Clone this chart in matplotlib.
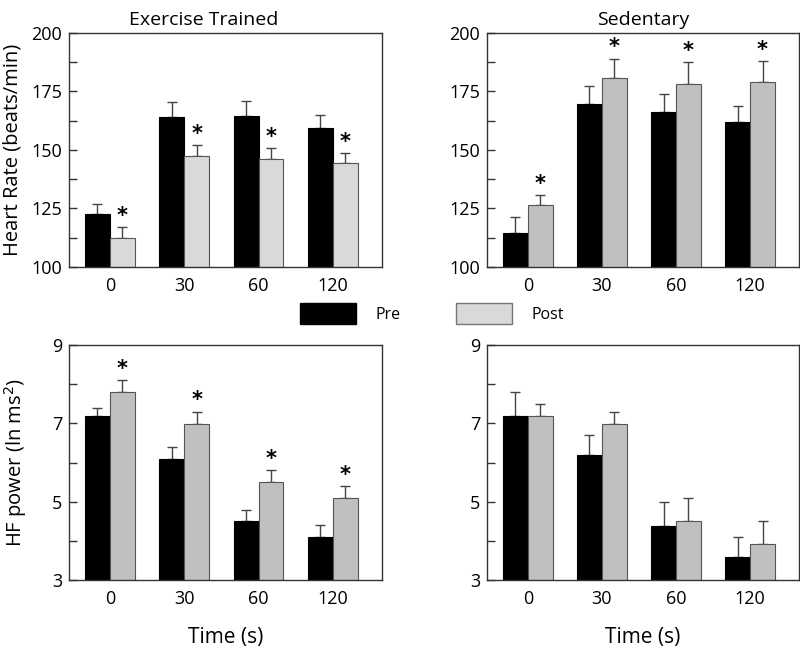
import numpy as np
import matplotlib
matplotlib.use("Agg")
import matplotlib.pyplot as plt

plt.rcParams['font.family'] = ['Open Sans', 'DejaVu Sans']

# Dane
times = ['0', '30', '60', '120']

hr_trained_pre = [122.6, 163.9, 164.6, 159.3]
hr_trained_pre_err = [4.5, 6.7, 6.4, 5.6]
hr_trained_post = [112.3, 147.4, 146.1, 144.3]
hr_trained_post_err = [4.8, 4.7, 4.8, 4.4]

hr_sed_pre = [114.6, 169.6, 166.1, 161.9]
hr_sed_pre_err = [6.7, 7.8, 8.0, 6.7]
hr_sed_post = [126.3, 180.7, 178.1, 179.0]
hr_sed_post_err = [4.3, 8.4, 9.3, 9.1]

hf_trained_pre = [7.19, 6.09, 4.50, 4.09]
hf_trained_pre_err = [0.19, 0.31, 0.30, 0.31]
hf_trained_post = [7.79, 6.99, 5.51, 5.09]
hf_trained_post_err = [0.31, 0.31, 0.29, 0.30]

hf_sed_pre = [7.19, 6.19, 4.39, 3.60]
hf_sed_pre_err = [0.61, 0.50, 0.61, 0.49]
hf_sed_post = [7.20, 6.99, 4.51, 3.91]
hf_sed_post_err = [0.30, 0.31, 0.58, 0.60]

star_hr_trained = [True, True, True, True]
star_hr_sed = [True, True, True, True]
star_hf_trained = [True, True, True, True]
star_hf_sed = [False, False, False, False]

hr_ticks = [100, 125, 150, 175, 200]
hr_minor = [112.5, 137.5, 162.5, 187.5]
hf_ticks = [3, 5, 7, 9]
hf_minor = [4, 6, 8]

fig = plt.figure(figsize=(8, 6.48), dpi=100)

W, H = 800.0, 648.0
def px_axes(l, t, r, b):
    return fig.add_axes([l / W, 1 - b / H, (r - l) / W, (b - t) / H])

ax_tl = px_axes(69, 33, 382, 267)
ax_tr = px_axes(487, 33, 799, 267)
ax_bl = px_axes(69, 345, 382, 580)
ax_br = px_axes(487, 345, 799, 580)

x = np.arange(len(times))
bw = 0.335


def draw(ax, pre, pre_err, post, post_err, stars, post_color, ylim, major, minor, star_off):
    ax.bar(x - bw / 2, pre, bw, color='black', edgecolor='black', linewidth=0.8, zorder=2)
    ax.bar(x + bw / 2, post, bw, color=post_color, edgecolor='#555555', linewidth=0.8, zorder=2)
    ax.errorbar(x - bw / 2, pre, yerr=[np.zeros(len(pre)), pre_err], fmt='none',
                ecolor='#444444', elinewidth=1, capsize=3.5, capthick=1, zorder=1)
    ax.errorbar(x + bw / 2, post, yerr=[np.zeros(len(post)), post_err], fmt='none',
                ecolor='#444444', elinewidth=1, capsize=3.5, capthick=1, zorder=1)
    for i, s in enumerate(stars):
        if s:
            ax.text(x[i] + bw / 2, post[i] + post_err[i] + star_off, '*', ha='center',
                    va='bottom', fontsize=15, fontweight='bold', family='DejaVu Sans')
    ax.set_xlim(-0.55, 3.66)
    ax.set_ylim(*ylim)
    ax.set_yticks(major)
    ax.set_yticks(minor, minor=True)
    ax.tick_params(axis='y', which='both', direction='in', length=6, width=1,
                   color='#333333', labelsize=13, pad=5)
    ax.set_xticks(x)
    ax.set_xticklabels(times)
    ax.tick_params(axis='x', length=0, labelsize=13, pad=7)
    for sp in ax.spines.values():
        sp.set_color('#333333')
        sp.set_linewidth(1)


draw(ax_tl, hr_trained_pre, hr_trained_pre_err, hr_trained_post, hr_trained_post_err,
     star_hr_trained, '#d9d9d9', (100, 200), hr_ticks, hr_minor, 0.5)
draw(ax_tr, hr_sed_pre, hr_sed_pre_err, hr_sed_post, hr_sed_post_err,
     star_hr_sed, '#c0c0c0', (100, 200), hr_ticks, hr_minor, 0.5)
draw(ax_bl, hf_trained_pre, hf_trained_pre_err, hf_trained_post, hf_trained_post_err,
     star_hf_trained, '#c0c0c0', (3, 9), hf_ticks, hf_minor, 0.03)
draw(ax_br, hf_sed_pre, hf_sed_pre_err, hf_sed_post, hf_sed_post_err,
     star_hf_sed, '#c0c0c0', (3, 9), hf_ticks, hf_minor, 0.03)

ax_tl.set_title('Exercise Trained', fontsize=14, pad=6, x=0.43)
ax_tr.set_title('Sedentary', fontsize=14, pad=6)
ax_tl.set_ylabel('Heart Rate (beats/min)', fontsize=14.5, labelpad=6)
ax_bl.set_ylabel('HF power (ln ms$^2$)', fontsize=14.5, labelpad=16)
ax_bl.set_xlabel('Time (s)', fontsize=15, labelpad=14)
ax_br.set_xlabel('Time (s)', fontsize=15, labelpad=14)

# Legenda
h_pre = plt.Rectangle((0, 0), 1, 1, facecolor='black', edgecolor='black')
h_post = plt.Rectangle((0, 0), 1, 1, facecolor='#d9d9d9', edgecolor='#777777')
fig.legend([h_pre, h_post], ['Pre', 'Post'], loc='center', bbox_to_anchor=(0.54, 0.516),
           ncol=2, frameon=False, fontsize=11.5, handlelength=3.5, handleheight=1.6,
           handletextpad=1.2, columnspacing=3.5)

plt.savefig('out.png', dpi=100)
